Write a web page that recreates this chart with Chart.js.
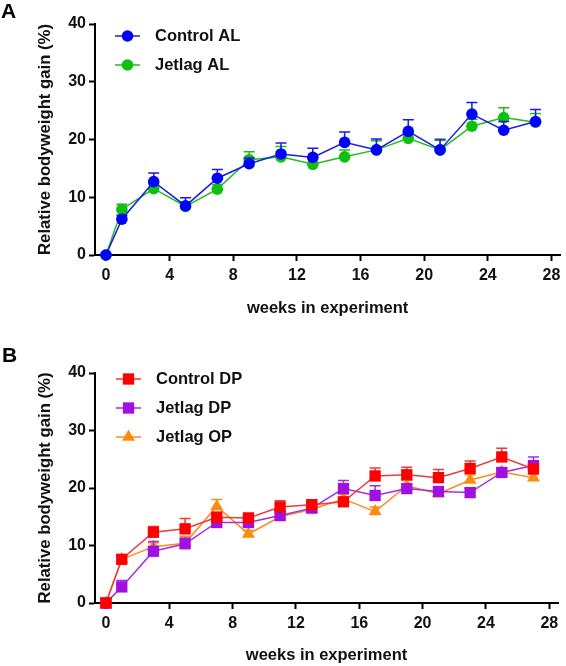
<!DOCTYPE html>
<html><head><meta charset="utf-8">
<script src="https://cdn.jsdelivr.net/npm/chart.js@4/dist/chart.umd.min.js"></script>
<style>
html,body{margin:0;padding:0;background:#fff;width:566px;height:666px;overflow:hidden;}
.panel{position:absolute;left:0;width:566px;height:333px;}
.lbl{position:absolute;font:bold 21px "Liberation Sans",Arial,sans-serif;color:#000;line-height:21px;z-index:2;}
</style></head><body>
<div class="panel" style="top:0"><canvas id="cA" width="566" height="333"></canvas></div>
<div class="panel" style="top:333px"><canvas id="cB" width="566" height="333"></canvas></div>
<div class="lbl" style="left:1px;top:0px">A</div>
<div class="lbl" style="left:2px;top:344px">B</div>
<script>
const weeks = [0,1,3,5,7,9,11,13,15,17,19,21,23,25,27];
const xTicks = [0,4,8,12,16,20,24,28];
const yTicks = [0,10,20,30,40];

const controlAL    = [0,6.2,12.7,8.5,13.3,15.8,17.5,16.9,19.5,18.2,21.4,18.2,24.4,21.6,23.1];
const controlALerr = [0,0.7,1.5,1.4,1.5,1.0,1.9,1.6,1.8,1.9,2.0,1.7,2.0,1.5,2.1];
const jetlagAL     = [0,7.9,11.5,8.4,11.4,16.5,17.0,15.7,17.0,18.2,20.2,18.2,22.3,23.8,23.0];
const jetlagALerr  = [0,0.9,0.8,0.8,0.8,1.4,1.8,1.0,1.2,1.6,0.9,1.9,1.2,1.7,1.5];

const controlDP    = [0,7.6,12.3,12.9,14.9,14.8,16.7,17.1,17.6,22.1,22.3,21.8,23.4,25.4,23.3];
const controlDPerr = [0,0.8,1.0,1.8,0.9,0.6,1.1,0.8,0.6,1.4,1.3,1.4,1.3,1.5,0.8];
const jetlagDP     = [0,2.8,9.0,10.3,14.0,14.0,15.2,16.5,19.9,18.7,19.9,19.4,19.2,22.7,23.9];
const jetlagDPerr  = [0,1.1,1.7,1.0,0.6,0.6,0.7,1.0,1.4,1.7,0.8,0.8,0.7,0.6,1.5];
const jetlagOP     = [0,7.6,9.8,10.4,16.8,12.0,15.0,16.3,18.1,15.9,20.4,19.0,21.4,22.8,21.8];
const jetlagOPerr  = [0,0.6,0.7,1.2,1.2,0.6,0.6,0.6,0.8,0.8,0.9,0.7,0.9,0.6,0.7];

const FONT = '"Liberation Sans", Arial, sans-serif';

function drawMarker(ctx, style, x, y, r, color){
  ctx.fillStyle = color;
  ctx.beginPath();
  if(style === 'circle'){ ctx.arc(x, y, r, 0, Math.PI*2); }
  else if(style === 'rect'){ const s = r*Math.SQRT1_2; ctx.rect(x-s, y-s, 2*s, 2*s); }
  else if(style === 'triangle'){
    let a = 0;
    ctx.moveTo(x + Math.sin(a)*r, y - Math.cos(a)*r);
    a += 2*Math.PI/3; ctx.lineTo(x + Math.sin(a)*r, y - Math.cos(a)*r);
    a += 2*Math.PI/3; ctx.lineTo(x + Math.sin(a)*r, y - Math.cos(a)*r);
    ctx.closePath();
  }
  ctx.fill();
}

const errPlugin = {
  id: 'errorBars',
  beforeDatasetDraw(chart, args){
    const ds = chart.data.datasets[args.index];
    const errs = ds.errors; if(!errs) return;
    const xs = chart.scales.x, ys = chart.scales.y, ctx = chart.ctx;
    ctx.save();
    ctx.strokeStyle = ds.borderColor; ctx.lineWidth = 1.5;
    ds.data.forEach((p, j) => {
      const e = errs[j]; if(!e) return;
      const x = xs.getPixelForValue(p.x), y0 = ys.getPixelForValue(p.y), y1 = ys.getPixelForValue(p.y + e);
      ctx.beginPath();
      ctx.moveTo(x, y0); ctx.lineTo(x, y1);
      ctx.moveTo(x-5.5, y1); ctx.lineTo(x+5.5, y1);
      ctx.stroke();
    });
    ctx.restore();
  }
};

const legendPlugin = {
  id: 'customLegend',
  afterDraw(chart, args, opts){
    const ctx = chart.ctx; ctx.save();
    chart.data.datasets.forEach((ds, i) => {
      const y = opts.y0 + i*opts.dy;
      ctx.strokeStyle = ds.borderColor; ctx.lineWidth = 1.5;
      ctx.beginPath(); ctx.moveTo(opts.x0, y); ctx.lineTo(opts.x1, y); ctx.stroke();
      drawMarker(ctx, ds.pointStyle, (opts.x0+opts.x1)/2, y, ds.pointRadius, ds.backgroundColor);
      ctx.fillStyle = '#111';
      ctx.font = 'bold 16.5px ' + FONT;
      ctx.textBaseline = 'middle'; ctx.textAlign = 'left';
      ctx.fillText(ds.label, opts.tx, y + 0.5);
    });
    ctx.restore();
  }
};

function series(label, vals, errs, color, lineColor, style, r){
  return {
    label, errors: errs,
    data: weeks.map((w, i) => ({x: w, y: vals[i]})),
    borderColor: lineColor, backgroundColor: color,
    borderWidth: 1.5, pointStyle: style, pointRadius: r, pointHoverRadius: r,
    pointBorderWidth: 0, pointBackgroundColor: color, pointBorderColor: color,
    tension: 0, clip: false, fill: false
  };
}

function makeChart(id, datasets, padTop, xAxisH, titlePadBottom, legendOpts){
  const tickFont = {family: FONT, size: 16, weight: 'bold'};
  return new Chart(document.getElementById(id), {
    type: 'line',
    data: {datasets},
    plugins: [errPlugin, legendPlugin],
    options: {
      responsive: false, animation: false, devicePixelRatio: 1,
      layout: {padding: {top: padTop, left: 0, right: 3, bottom: 0}},
      plugins: {legend: {display: false}, tooltip: {enabled: false}, customLegend: legendOpts},
      scales: {
        x: {
          type: 'linear', min: -0.69, max: 28.55,
          afterBuildTicks: s => { s.ticks = xTicks.map(v => ({value: v})); },
          afterFit: s => { s.height = xAxisH; },
          grid: {drawOnChartArea: false, drawTicks: true, tickLength: 6, tickWidth: 2, tickColor: '#000'},
          border: {display: true, color: '#000', width: 2},
          ticks: {color: '#111', font: tickFont, padding: 5, maxRotation: 0, autoSkip: false},
          title: {display: true, text: 'weeks in experiment', color: '#111',
                  font: {family: FONT, size: 16.5, weight: 'bold'}, padding: {top: 0, bottom: titlePadBottom}}
        },
        y: {
          type: 'linear', min: 0, max: 40,
          afterBuildTicks: s => { s.ticks = yTicks.map(v => ({value: v})); },
          afterFit: s => { s.width = 95; },
          grid: {drawOnChartArea: false, drawTicks: true, tickLength: 6, tickWidth: 2, tickColor: '#000'},
          border: {display: true, color: '#000', width: 2},
          ticks: {color: '#111', font: tickFont, padding: 3},
          title: {display: true, text: 'Relative bodyweight gain (%)', color: '#111',
                  font: {family: FONT, size: 16.7, weight: 'bold'}, padding: {top: 35, bottom: 0}}
        }
      }
    }
  });
}

makeChart('cA', [
  series('Control AL', controlAL, controlALerr, '#0000FF', '#1A1AE6', 'circle', 5.8),
  series('Jetlag AL', jetlagAL, jetlagALerr, '#10C010', '#22BB22', 'circle', 5.8)
], 24, 78, 15, {x0: 115, x1: 140, tx: 155, y0: 36, dy: 29});

makeChart('cB', [
  series('Control DP', controlDP, controlDPerr, '#FF0000', '#F03A3A', 'rect', 8),
  series('Jetlag DP', jetlagDP, jetlagDPerr, '#A010E0', '#A030E0', 'rect', 8),
  series('Jetlag OP', jetlagOP, jetlagOPerr, '#FF8A10', '#FF8A20', 'triangle', 7.5)
], 40, 63, 1, {x0: 116, x1: 141, tx: 156, y0: 46, dy: 29});
</script>
</body></html>
